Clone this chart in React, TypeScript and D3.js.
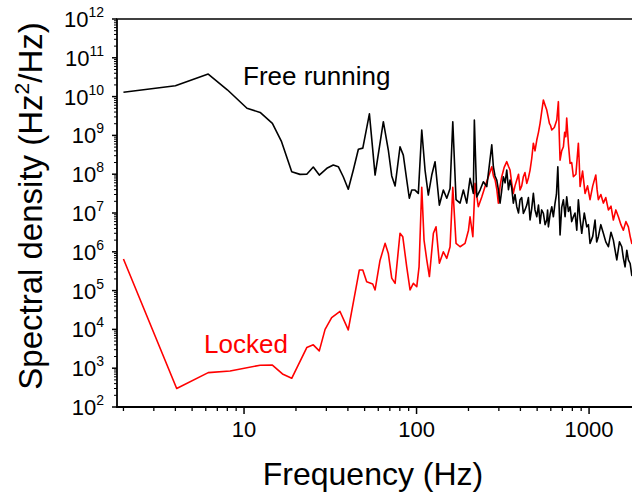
import * as d3 from "d3";

// free running spectrum (black)
const freeFreq = [2, 4, 6.2, 8, 10.4, 12.4, 14.6, 16.5, 18.9, 21.1, 23.1, 25.2, 27.3, 30.2, 32.9, 35.2, 37.6, 40.2, 43, 46, 48.8, 53.3, 57.5, 64.2, 68.6, 71.8, 75.1, 80.2, 83.8, 87.7, 90.8, 93.8, 98, 102.4, 107.2, 112, 117, 122.5, 128, 135.6, 143, 149.7, 156.4, 162.2, 169.4, 178.8, 186.8, 195.4, 204.2, 213.4, 216.3, 223.4, 233.4, 243.9, 255.3,
  272.9, 278.8, 285, 291.7, 298, 304.8, 311, 318.5, 326, 333.4, 341, 348.3, 356, 364, 372, 381, 390, 398, 407, 416, 425, 435.5, 445, 455, 465, 475.5, 486, 497.7, 509, 520, 531, 543.5, 556, 568.6, 575, 581, 594, 608, 621, 635, 647, 659, 669, 679, 694, 710, 726, 742, 759, 776, 793, 811, 829, 848.6, 867, 887, 907, 938, 970, 991, 1013, 1050, 1083, 1107, 1132, 1170, 1210, 1250, 1294, 1340, 1383, 1415, 1448, 1500, 1547, 1580, 1617, 1655, 1690, 1730, 1768, 1820, 1873];
const freePsd = [1.3e10, 1.9e10, 3.8e10, 1.5e10, 5.0e9, 3.9e9, 2.05e9, 6.9e8, 1.16e8, 9.9e7, 1.0e8, 1.53e8, 9.5e7, 1.42e8, 1.73e8, 1.56e8, 8.6e7, 4.1e7, 1.28e8, 4.4e8, 4.7e8, 3.6e9, 9.5e7, 2.25e9, 4.2e8, 9.0e7, 5.0e7, 5.1e8, 3.1e8, 7.1e7, 2.4e7, 3.9e7, 3.9e7, 3.2e7, 1.38e9, 1.28e8, 2.9e7, 9.5e7, 2.1e8, 1.6e7, 3.9e7, 2.4e7, 4.3e7, 2.25e9, 2.2e7, 1.8e7, 3.9e7, 1.8e7, 7.8e7, 3.2e7, 2.5e9, 2.6e7, 3.9e7, 6.4e7, 4.8e7,
  5.7e8, 1.56e8, 9e7, 7.1e7, 4e7, 1.8e7, 3.5e7, 8.6e7, 6e7, 1.28e8, 4e7, 7.1e7, 4.5e7, 1.8e7, 3e7, 1.45e7, 1e7, 2.2e7, 2.5e7, 9.8e6, 1.2e7, 1.6e7, 2.5e7, 6.6e6, 1.3e7, 3.2e7, 1.2e7, 8e6, 1.6e7, 5.4e6, 1.2e7, 9.8e6, 5e6, 6.6e6, 1.2e7, 4.4e6, 9e6, 1.45e7, 8e6, 1.8e7, 3e7, 1.56e8, 2e7, 2.7e6, 1.4e7, 2.2e7, 8e6, 2.6e7, 1.1e7, 1.45e7, 6e6, 8e6, 1e7, 3.6e6, 2.2e7, 7e6, 3e6, 1e7, 4.4e6, 5e6, 1.65e6, 2.5e6, 6.6e6, 1.8e6, 2.45e6, 5e6, 3e6, 1.8e6, 1.35e6, 3.2e6, 2e6, 1.1e6, 6.2e5, 1.8e6, 1.35e6, 7e5, 4.1e5, 1.1e6, 6.2e5, 5e5, 2.5e5, 2.2e5, 3.4e5];

// locked spectrum (red)
const lockedFreq = [2, 4.07, 6.2, 8.3, 12.4, 14.6, 16.7, 18.9, 23.1, 25.2, 27.3, 29.5, 32.2, 36, 40.2, 46.6, 48.8, 51.4, 55.7, 57.5, 61.4, 65.7, 68.6, 71.8, 75.1, 80.2, 83.2, 87.7, 91.7, 95.8, 100.3, 103.4, 107.2, 110.5, 114.6, 118.7, 125.2, 129.7, 135.6, 143, 149.7, 156.4, 162.2, 169.4, 178.8, 191, 200, 204.2, 212, 218.3, 228, 238.8, 249.5,
  260.8, 266, 272.9, 279, 285.3, 292, 298, 305, 311.8, 322, 333.4, 341, 348.3, 356, 364, 372, 381, 390, 398, 407, 416, 425, 435.5, 445, 455, 465, 475.5, 486, 497.7, 509, 520, 531, 543.5, 556, 568.6, 579, 589, 598, 608, 629, 650, 664, 671, 679, 694, 710, 722, 733, 742, 759, 776, 793, 811, 839, 867, 877, 887, 917, 948, 980, 1013, 1050, 1094, 1113, 1132, 1170, 1210, 1250, 1294, 1340, 1383, 1430, 1479, 1530, 1580, 1635, 1690, 1730, 1768, 1820, 1873];
const lockedPsd = [6.5e5, 3.0e2, 7.7e2, 8.5e2, 1.19e3, 1.2e3, 7.1e2, 5.5e2, 3.4e3, 4.0e3, 2.8e3, 1.0e4, 2.0e4, 2.9e4, 9.7e3, 3.4e5, 3.4e5, 1.7e5, 1.48e5, 1.04e5, 6e5, 1.65e6, 9.1e5, 2.1e5, 1.54e5, 3.0e6, 2.45e6, 4.1e5, 1.04e5, 1.54e5, 1.26e5, 4.1e5, 4.6e7, 2.0e6, 6.2e5, 2.3e5, 3.0e6, 4.4e6, 5.1e5, 1.0e6, 6.8e5, 1.35e6, 4.6e7, 1.65e6, 1.35e6, 1.65e6, 3.6e6, 8.0e6, 2.45e6, 5.8e7, 1.45e7, 2.6e7, 4.8e7,
  8.6e7, 1.1e8, 1.56e8, 9e7, 7.1e7, 4e7, 1.8e7, 5e7, 8.6e7, 1.5e8, 2.1e8, 1.6e8, 1.28e8, 6e7, 3.2e7, 5e7, 7.1e7, 1e8, 3.9e7, 5e7, 8.6e7, 1.1e8, 5.8e7, 8e7, 1.28e8, 2.5e8, 6.3e8, 4e8, 7.6e8, 1.2e9, 2.05e9, 4e9, 8.2e9, 6e9, 4.5e9, 3e9, 2.05e9, 1.8e9, 1.38e9, 1.6e9, 2.5e9, 7.4e9, 1.2e9, 2.3e8, 4e8, 5.1e8, 1.2e9, 9.2e8, 2.8e9, 6e8, 1.9e8, 2e8, 8.6e7, 1e8, 6.3e8, 2e8, 4.8e7, 1.2e8, 3.2e7, 5e7, 2.2e7, 5e7, 9.5e7, 4e7, 2.2e7, 3e7, 1.8e7, 2.5e7, 1.2e7, 1.5e7, 6.6e6, 1.2e7, 8e6, 5e6, 3.6e6, 6e6, 4.4e6, 2.5e6, 1.65e6, 2e6, 1.5e6];

const xTicks = [10, 100, 1000];
const yExponents = [2, 3, 4, 5, 6, 7, 8, 9, 10, 11, 12];

const W = 632;
const H = 495;
const LEFT = 117;
const TOP = 19;
const BOTTOM = 407;
const FONT = "Liberation Sans, Arial, sans-serif";

export default function App() {
  // x domain runs past the right edge of the picture (plot is cut off)
  const x = d3.scaleLog().domain([1.835, 2000]).range([LEFT, 641]);
  const y = d3.scaleLog().domain([1e2, 1e12]).range([BOTTOM, TOP]);

  const line = d3
    .line<[number, number]>()
    .x((d) => x(d[0]))
    .y((d) => y(d[1]));

  const free = freeFreq.map((f, i) => [f, freePsd[i]] as [number, number]);
  const locked = lockedFreq.map((f, i) => [f, lockedPsd[i]] as [number, number]);

  // minor ticks
  const xMinor: number[] = [];
  for (let dec = 1; dec <= 1000; dec *= 10) {
    for (let k = 2; k <= 9; k++) {
      const v = dec * k;
      if (v >= 1.835 && x(v) <= W) xMinor.push(v);
    }
  }
  const yMinor: number[] = [];
  for (let e = 2; e < 12; e++) {
    for (let k = 2; k <= 9; k++) yMinor.push(k * Math.pow(10, e));
  }

  return (
    <svg
      width={W}
      height={H}
      style={{ position: "absolute", left: 0, top: 0, background: "#fff" }}
      fontFamily={FONT}
    >
      <defs>
        <clipPath id="plot-clip">
          <rect x={LEFT} y={TOP} width={W - LEFT} height={BOTTOM - TOP} />
        </clipPath>
      </defs>
      <rect width={W} height={H} fill="#fff" />

      <g clipPath="url(#plot-clip)" fill="none" strokeLinejoin="round">
        <path d={line(locked) ?? ""} stroke="#ff0000" strokeWidth={1.6} />
        <path d={line(free) ?? ""} stroke="#000" strokeWidth={1.6} />
      </g>

      {/* axes frame */}
      <line x1={LEFT} x2={LEFT} y1={TOP} y2={BOTTOM + 1} stroke="#000" strokeWidth={1.8} />
      <line x1={LEFT - 1} x2={W} y1={BOTTOM} y2={BOTTOM} stroke="#000" strokeWidth={1.8} />
      <line x1={LEFT - 1} x2={W} y1={TOP} y2={TOP} stroke="#000" strokeWidth={1.5} />

      {/* x ticks */}
      {xMinor.map((v) => (
        <line key={"xm" + v} x1={x(v)} x2={x(v)} y1={BOTTOM} y2={BOTTOM + 4} stroke="#000" strokeWidth={1.3} />
      ))}
      {xTicks.map((v) => (
        <g key={"xt" + v}>
          <line x1={x(v)} x2={x(v)} y1={BOTTOM} y2={BOTTOM + 7} stroke="#000" strokeWidth={1.5} />
          <text x={x(v)} y={437} textAnchor="middle" fontSize={22}>
            {v}
          </text>
        </g>
      ))}

      {/* y ticks */}
      {yMinor.map((v) => (
        <line key={"ym" + v} x1={LEFT - 3} x2={LEFT} y1={y(v)} y2={y(v)} stroke="#000" strokeWidth={1} />
      ))}
      {yExponents.map((e) => {
        const yy = y(Math.pow(10, e));
        return (
          <g key={"yt" + e}>
            <line x1={LEFT - 5} x2={LEFT} y1={yy} y2={yy} stroke="#000" strokeWidth={1.5} />
            <text x={104} y={yy + 8} textAnchor="end" fontSize={22}>
              10
              <tspan dy={-10} fontSize={14}>
                {e}
              </tspan>
            </text>
          </g>
        );
      })}

      {/* axis titles */}
      <text x={373} y={485} textAnchor="middle" fontSize={32}>
        Frequency (Hz)
      </text>
      <text transform={`translate(42,206) rotate(-90)`} textAnchor="middle" fontSize={33}>
        Spectral density (Hz
        <tspan dy={-13} fontSize={21}>
          2
        </tspan>
        <tspan dy={13}>/Hz)</tspan>
      </text>

      {/* series labels */}
      <text x={243} y={85} fontSize={26} fill="#000">
        Free running
      </text>
      <text x={204} y={353} fontSize={26} fill="#ff0000">
        Locked
      </text>
    </svg>
  );
}
